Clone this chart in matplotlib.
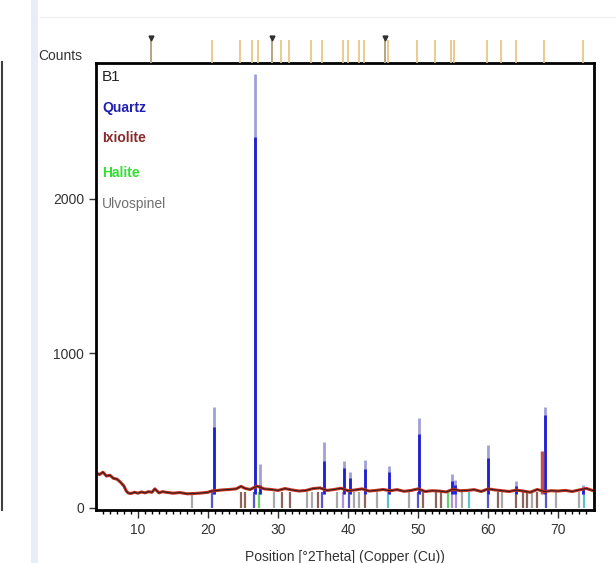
import matplotlib
matplotlib.use("Agg")
import matplotlib.pyplot as plt
from matplotlib.lines import Line2D
import numpy as np

plt.rcParams['font.family'] = ['Liberation Sans Narrow', 'Liberation Sans', 'DejaVu Sans']

# measured background (2theta, counts)
bg_x = [4, 4.5, 5, 5.5, 6, 6.5, 7, 7.5, 8, 8.3, 8.6, 9, 9.5, 10, 10.5, 11, 11.5, 12, 12.4, 13, 13.5,
        14, 15, 16, 17, 18, 19, 20, 20.5, 21, 22, 23, 24, 24.7, 25.3, 26, 27, 28, 29, 30, 31, 32,
        33, 34, 35, 36, 37, 38, 39, 40, 41, 42, 43, 44, 45, 46, 47, 48, 49, 50, 51, 52, 53, 54,
        55, 56, 57, 58, 59, 60, 61, 62, 63, 64, 65, 66, 67, 68, 69, 70, 71, 72, 73, 74, 75]
bg_y = [225, 215, 230, 205, 210, 190, 185, 165, 140, 110, 95, 92, 100, 94, 102, 96, 104, 100, 122, 96,
        104, 100, 94, 98, 90, 92, 95, 100, 108, 110, 115, 118, 122, 138, 125, 118, 140, 122, 118,
        112, 124, 115, 108, 112, 124, 128, 112, 118, 126, 110, 115, 122, 108, 112, 118, 110, 117,
        106, 112, 122, 105, 110, 108, 102, 120, 110, 112, 117, 105, 122, 115, 110, 105, 114, 108,
        100, 118, 105, 110, 108, 112, 105, 115, 125, 110]

# peaks: position, measured top, quartz (blue) part
pk_x = [20.85, 26.65, 27.4, 36.5, 39.45, 40.3, 42.45, 45.8, 50.15, 54.9, 55.3, 59.95, 64.0, 68.15, 73.6]
pk_top = [650, 2810, 280, 425, 305, 230, 310, 270, 580, 220, 180, 408, 170, 650, 150]
pk_blue = [520, 2400, 150, 300, 260, 195, 250, 230, 480, 170, 150, 320, 140, 600, 120]
ix_x = [67.7]
ix_top = [370]

# reference sticks under the pattern
ref_x = [17.7, 20.6, 24.7, 25.3, 26.5, 27.3, 29.4, 30.6, 31.7, 34.1, 34.9, 35.7, 36.3, 38.4, 39.3,
         40.1, 40.9, 41.6, 42.4, 44.1, 45.7, 48.7, 50.0, 50.7, 52.6, 53.3, 54.2, 54.9, 55.4, 56.3,
         57.3, 60.0, 61.4, 62.0, 64.0, 64.9, 65.6, 66.3, 66.9, 68.3, 69.7, 72.9, 73.7]
ref_c = ['grey', 'blue', 'brown', 'brown', 'blue', 'green', 'grey', 'brown', 'brown', 'grey', 'grey',
         'brown', 'blue', 'grey', 'purple', 'blue', 'grey', 'grey', 'brown', 'grey', 'cyan', 'grey',
         'blue', 'brown', 'brown', 'brown', 'green', 'purple', 'purple', 'grey', 'cyan', 'blue',
         'brown', 'grey', 'brown', 'brown', 'brown', 'grey', 'brown', 'blue', 'grey', 'grey', 'cyan']
ref_h = 100

# top strip reference lines
top_x = [11.9, 20.6, 24.5, 26.3, 27.1, 29.2, 30.4, 31.6, 34.7, 36.3, 39.3, 40.0, 41.6, 42.3,
         45.3, 45.7, 49.9, 52.4, 54.7, 55.1, 59.9, 61.9, 64.0, 68.0, 73.6]
top_mark = [11.9, 29.2, 45.3]

colmap = {'grey': '#9a9a9a', 'blue': '#3a3ac8', 'brown': '#7a4a40', 'green': '#50c850',
          'purple': '#a080d0', 'cyan': '#40b8c8'}

fig = plt.figure(figsize=(6.16, 5.63), dpi=100)
ax = fig.add_axes([0.1558, 0.0941, 0.8084, 0.794])
ax_top = fig.add_axes([0.1558, 0.888, 0.8084, 0.05], sharex=ax)

# reference sticks
for x, c in zip(ref_x, ref_c):
    ax.vlines(x, 0, ref_h, color=colmap[c], lw=1.6, alpha=0.85)

# measured peaks
ax.vlines(pk_x, 90, pk_top, color='#a0a0d8', lw=2.0)
ax.vlines(pk_x, 90, pk_blue, color='#2020d0', lw=2.0)
ax.vlines(ix_x, 90, ix_top, color='#c05050', lw=2.5)

# background
ax.plot(bg_x, bg_y, color='#c83020', lw=2.2)
ax.plot(bg_x, bg_y, color='#202020', lw=0.7)

ax.set_xlim(4, 75.1)
ax.set_ylim(-15, 2880)
ax.set_xticks([10, 20, 30, 40, 50, 60, 70])
ax.set_xticks(np.arange(5, 75), minor=True)
ax.set_yticks([0, 1000, 2000])
ax.tick_params(axis='both', labelsize=10, colors='#333333', direction='out')
ax.tick_params(axis='x', which='major', length=6, width=1)
ax.tick_params(axis='x', which='minor', length=3, width=1)
ax.tick_params(axis='y', length=5, width=1)
for s in ax.spines.values():
    s.set_linewidth(2)
ax.set_xlabel('Position [°2Theta] (Copper (Cu))', fontsize=10, color='#333333', labelpad=9)

ax.text(0.012, 0.985, 'B1', transform=ax.transAxes, fontsize=11, va='top', color='#222222')
ax.text(0.012, 0.915, 'Quartz', transform=ax.transAxes, fontsize=10, va='top',
        color='#2020b0', fontweight='bold')
ax.text(0.012, 0.848, 'Ixiolite', transform=ax.transAxes, fontsize=10, va='top',
        color='#8a2a2a', fontweight='bold')
ax.text(0.012, 0.770, 'Halite', transform=ax.transAxes, fontsize=10, va='top',
        color='#30e030', fontweight='bold')
ax.text(0.012, 0.700, 'Ulvospinel', transform=ax.transAxes, fontsize=10, va='top',
        color='#707070')

# top strip
ax_top.vlines(top_x, 0, 1, color='#e6c27e', lw=1.2)
ax_top.vlines(top_mark, 0, 1, color='#b0a080', lw=1.2)
ax_top.plot(top_mark, [1.05] * len(top_mark), 'v', color='#303030', ms=3.5)
ax_top.set_ylim(0, 1.2)
ax_top.axis('off')
fig.text(0.062, 0.9, 'Counts', fontsize=10, color='#333333', ha='left', va='center')

# frame decorations from the original screenshot
fig.add_artist(Line2D([0.055, 0.055], [0, 1], color='#e8eef8', lw=5))
fig.add_artist(Line2D([0.003, 0.003], [0.094, 0.89], color='#404040', lw=1.5))
fig.add_artist(Line2D([0.065, 1], [0.97, 0.97], color='#f0f0f0', lw=1))

fig.savefig('out.png', dpi=100)
